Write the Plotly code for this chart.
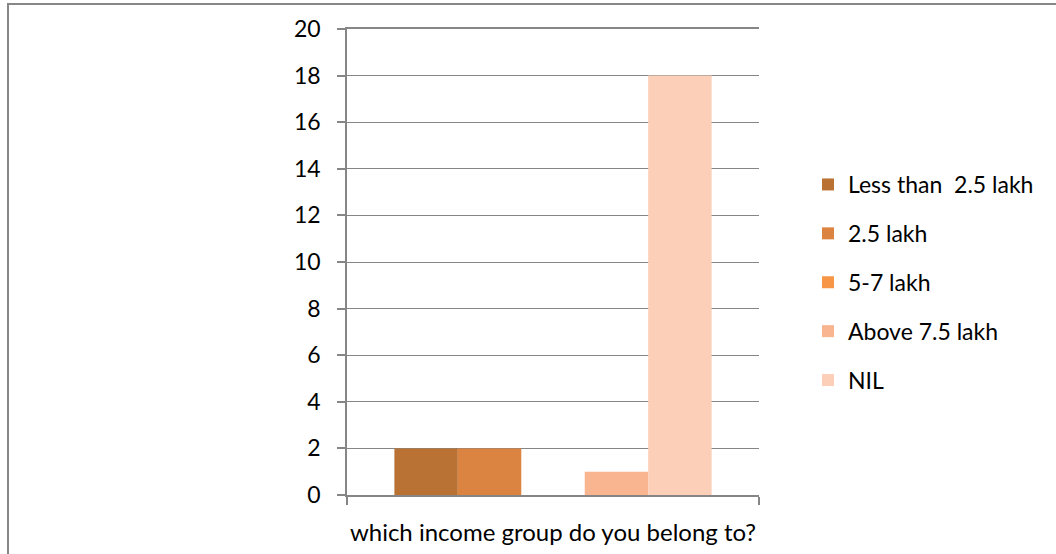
import plotly.graph_objects as go

categories = ["which income group do you belong to?"]
series_names = ["Less than  2.5 lakh", "2.5 lakh", "5-7 lakh", "Above 7.5 lakh", "NIL"]
series_values = [[2], [2], [0], [1], [18]]
colors = ["#B97234", "#DB8441", "#F79646", "#F9B590", "#FBCFB8"]
y_ticks = [0, 2, 4, 6, 8, 10, 12, 14, 16, 18, 20]

FONT = "Lato, Calibri, Carlito, sans-serif"
FS = 23
GRID = "#868686"

fig = go.Figure()
for name, vals, col in zip(series_names, series_values, colors):
    fig.add_trace(go.Bar(x=categories, y=vals, name=name, marker=dict(color=col, line=dict(width=0)),
                         legendgroup=name))

W, H = 1056, 554
L, R, T, B = 347, 297, 29, 59
pw, ph = W - L - R, H - T - B

fig.update_layout(
    width=W, height=H,
    margin=dict(l=L, r=R, t=T, b=B, pad=0, autoexpand=False),
    paper_bgcolor="white", plot_bgcolor="white",
    barmode="group", bargap=0.23, bargroupgap=0,
    font=dict(family=FONT, size=FS, color="black"),
    legend=dict(x=(808 - L) / pw, xanchor="left", y=(495 - 163) / ph, yanchor="top",
                traceorder="grouped", tracegroupgap=16, font=dict(size=FS),
                itemsizing="constant", bgcolor="rgba(0,0,0,0)"),
    showlegend=True,
    xaxis=dict(type="category", showline=True, mirror=True, linecolor=GRID, linewidth=1.5,
               ticks="outside", tickson="boundaries", ticklen=8, tickcolor=GRID,
               tickwidth=1.5, showgrid=False, tickfont=dict(size=24), tickangle=0,
               automargin=False, ticklabelstandoff=15),
    yaxis=dict(range=[0, max(y_ticks)], tickvals=y_ticks, showline=True, linecolor=GRID, linewidth=1.5,
               ticks="outside", ticklen=8, tickcolor=GRID, tickwidth=1.5,
               showgrid=True, gridcolor=GRID, gridwidth=1.2, zeroline=False,
               automargin=False, tickfont=dict(size=FS), ticklabelstandoff=12),
)

# outer chart frame
fig.add_shape(type="rect", xref="paper", yref="paper",
              x0=(8 - L) / pw, x1=(1200 - L) / pw,
              y0=(495 - 700) / ph, y1=(495 - 4) / ph,
              line=dict(color="#878787", width=2), fillcolor="rgba(0,0,0,0)", layer="below")

fig.write_html("out.html", config={"displayModeBar": False})
